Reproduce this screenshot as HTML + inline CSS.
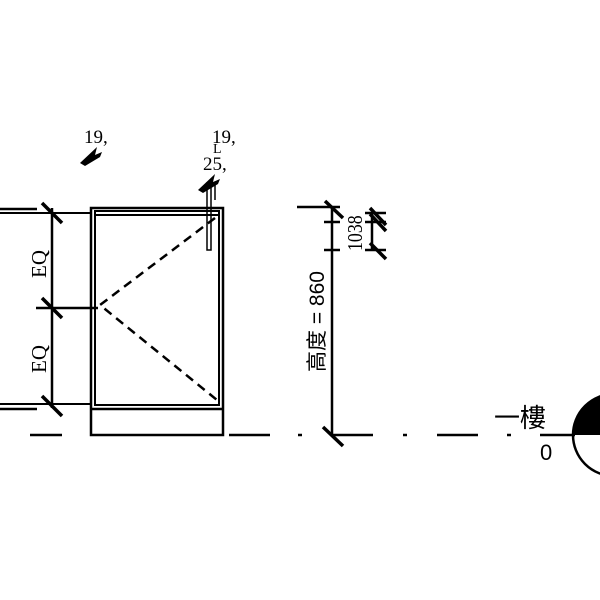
<!DOCTYPE html>
<html><head><meta charset="utf-8"><style>html,body{margin:0;padding:0;background:#fff;width:600px;height:600px;overflow:hidden}</style></head>
<body>
<svg width="600" height="600" viewBox="0 0 600 600" xmlns="http://www.w3.org/2000/svg" font-family="'Liberation Serif','Noto Serif CJK SC',serif">
<g stroke="#000" fill="none" stroke-width="2.5">
<!-- cabinet -->
<rect x="91" y="208" width="132" height="227"/>
<rect x="95" y="211" width="124" height="194" stroke-width="2"/>
<line x1="91" y1="409" x2="223" y2="409"/>
<line x1="95" y1="215" x2="219" y2="215" stroke-width="2"/>
<!-- dashed V -->
<polyline points="215,218 100,305 217,400" stroke-dasharray="9,6" stroke-width="2.5"/>
<!-- left dims -->
<line x1="0" y1="209" x2="37" y2="209"/>
<line x1="0" y1="213" x2="92" y2="213" stroke-width="2"/>
<line x1="0" y1="404" x2="92" y2="404" stroke-width="2"/>
<line x1="0" y1="409" x2="37" y2="409"/>
<line x1="36" y1="308" x2="98" y2="308"/>
<line x1="52" y1="208" x2="52" y2="408"/>
<line x1="42" y1="203" x2="62" y2="223" stroke-width="3.5"/>
<line x1="42" y1="298" x2="62" y2="318" stroke-width="3.5"/>
<line x1="42" y1="396" x2="62" y2="416" stroke-width="3.5"/>
<!-- right vertical bar -->
<rect x="207" y="183" width="4" height="67" stroke-width="1.5"/>
<line x1="215" y1="185" x2="215" y2="200" stroke-width="1.5"/>
<!-- floor line -->
<line x1="30" y1="435" x2="62" y2="435"/>
<line x1="229" y1="435" x2="270" y2="435"/>
<line x1="298" y1="435" x2="302" y2="435"/>
<line x1="332" y1="435" x2="373" y2="435"/>
<line x1="403" y1="435" x2="407" y2="435"/>
<line x1="437" y1="435" x2="478" y2="435"/>
<line x1="507" y1="435" x2="511" y2="435"/>
<line x1="540" y1="435" x2="575" y2="435"/>
<!-- height dim -->
<line x1="297" y1="207" x2="340" y2="207"/>
<line x1="332" y1="207" x2="332" y2="436"/>
<line x1="324" y1="222" x2="340" y2="222"/>
<line x1="324" y1="250" x2="340" y2="250"/>
<line x1="325" y1="201" x2="343" y2="218" stroke-width="3.5"/>
<line x1="323" y1="427" x2="343" y2="446" stroke-width="3.5"/>
<line x1="365" y1="213" x2="386" y2="213"/>
<line x1="365" y1="222" x2="386" y2="222"/>
<line x1="365" y1="250" x2="386" y2="250"/>
<line x1="372" y1="213" x2="372" y2="250"/>
<line x1="370" y1="208" x2="386" y2="225" stroke-width="3.5"/>
<line x1="370" y1="214" x2="386" y2="231" stroke-width="3.5"/>
<line x1="370" y1="243" x2="386" y2="259" stroke-width="3.5"/>
<!-- level circle -->
<circle cx="614" cy="435" r="41"/>
</g>
<path d="M573,435 A41,41 0 0 1 614,394 L614,435 Z" fill="#000"/>
<!-- small arrows -->
<polygon points="80,163 97,147 95,155 102,152 100,157 85,166" fill="#000"/>
<polygon points="198,190 215,174 213,182 220,179 218,184 203,193" fill="#000"/>
<g fill="#000" font-size="19">
<text x="84" y="143">19,</text>
<text x="212" y="143">19,</text>
<text x="203" y="170">25,</text>
<text x="213" y="153" font-size="14">L</text>
<text font-size="21" transform="translate(46,278) rotate(-90)">EQ</text>
<text font-size="21" transform="translate(46,373) rotate(-90)">EQ</text>
<text font-size="21" transform="translate(362,251) rotate(-90) scale(0.85,1)">1038</text>
<text font-size="21" font-family="'Liberation Sans','Noto Sans CJK TC',sans-serif" transform="translate(324,372) rotate(-90)">高度 = 860</text>
<text x="494" y="427" font-size="26" font-family="'Liberation Sans','Noto Sans CJK TC',sans-serif">一樓</text>
<text x="540" y="460" font-size="22" font-family="'Liberation Sans',sans-serif">0</text>
</g>
</svg>
</body></html>
